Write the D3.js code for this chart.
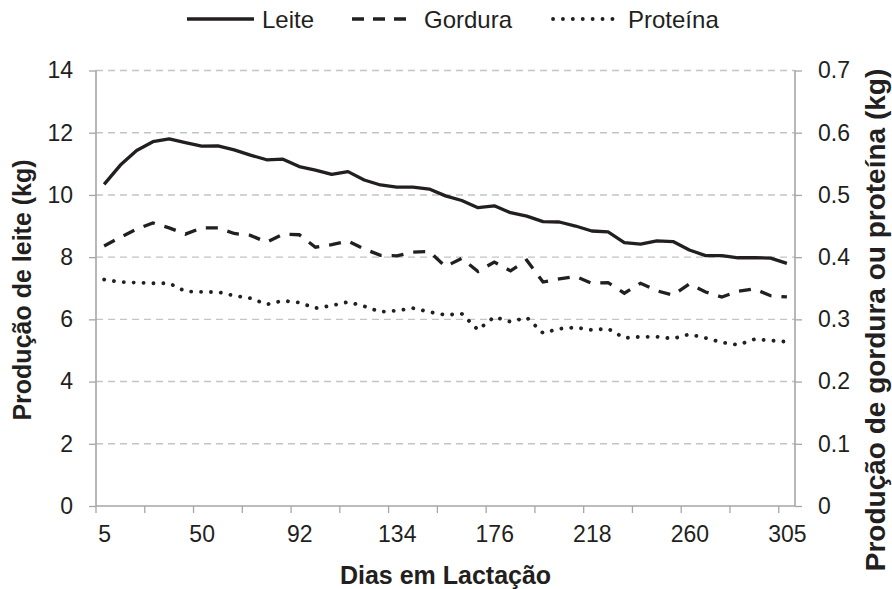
<!DOCTYPE html>
<html>
<head>
<meta charset="utf-8">
<script src="https://cdn.jsdelivr.net/npm/d3@7/dist/d3.min.js"></script>
<style>
  html, body { margin: 0; padding: 0; background: #fff; }
  svg text { font-family: "Liberation Sans", Arial, sans-serif; fill: #231f20; }
</style>
</head>
<body>
<svg id="chart" width="892" height="589"></svg>
<script>
// Days in lactation (categories)
const days = [5, 15, 22, 29, 36, 43, 50, 57, 64, 71, 78, 85, 92, 99, 106, 113, 120, 127, 134,
  141, 148, 155, 162, 169, 176, 183, 190, 197, 204, 211, 218, 225, 232, 239, 246, 253, 260,
  267, 274, 281, 288, 295, 305];
const tickLabels = [5, 50, 92, 134, 176, 218, 260, 305];

// Milk yield (kg) - left axis
const leite = [10.34, 10.96, 11.43, 11.71, 11.80, 11.68, 11.57, 11.58, 11.45, 11.28, 11.13,
  11.15, 10.91, 10.80, 10.66, 10.75, 10.48, 10.32, 10.25, 10.25, 10.19, 9.97, 9.82, 9.59,
  9.65, 9.43, 9.32, 9.14, 9.13, 9.00, 8.84, 8.81, 8.47, 8.42, 8.52, 8.50, 8.23, 8.05, 8.05,
  7.98, 7.98, 7.97, 7.80];
// Fat yield (kg) - right axis
const gordura = [0.418, 0.432, 0.445, 0.455, 0.447, 0.437, 0.447, 0.447, 0.438, 0.435, 0.424,
  0.437, 0.436, 0.416, 0.420, 0.426, 0.413, 0.403, 0.402, 0.408, 0.409, 0.385, 0.398, 0.377,
  0.392, 0.378, 0.395, 0.360, 0.365, 0.369, 0.358, 0.359, 0.342, 0.358, 0.346, 0.339, 0.357,
  0.344, 0.336, 0.345, 0.349, 0.338, 0.336];
// Protein yield (kg) - right axis
const proteina = [0.364, 0.360, 0.359, 0.358, 0.358, 0.345, 0.344, 0.344, 0.338, 0.334, 0.324,
  0.330, 0.327, 0.318, 0.322, 0.328, 0.321, 0.312, 0.314, 0.318, 0.312, 0.307, 0.309, 0.283,
  0.304, 0.296, 0.303, 0.278, 0.285, 0.287, 0.283, 0.285, 0.270, 0.272, 0.272, 0.269, 0.276,
  0.270, 0.263, 0.259, 0.268, 0.266, 0.264];

const leftTicks = [0, 2, 4, 6, 8, 10, 12, 14];
const rightTicks = [0, 0.1, 0.2, 0.3, 0.4, 0.5, 0.6, 0.7];

const svg = d3.select("#chart");
const L = 96, R = 795, T = 70.5, B = 506;
const ink = "#231f20", axisCol = "#a6a6a6", gridCol = "#c4c4c4";

const xBand = d3.scaleBand().domain(days).range([L, R]).padding(0);
const x = d3.scalePoint().domain(days).range([L, R]).padding(0.5);
const yL = d3.scaleLinear().domain([0, 14]).range([B, T]);
const yR = d3.scaleLinear().domain([0, 0.7]).range([B, T]);

// grid
svg.append("g").selectAll("line").data(leftTicks.filter(d => d > 0)).join("line")
  .attr("x1", L).attr("x2", R).attr("y1", d => yL(d)).attr("y2", d => yL(d))
  .attr("stroke", gridCol).attr("stroke-width", 1.4).attr("stroke-dasharray", "7,5");

// left axis
const gl = svg.append("g").attr("transform", `translate(${L},0)`)
  .call(d3.axisLeft(yL).tickValues(leftTicks).tickSize(7).tickPadding(16).tickFormat(d3.format("d")));
gl.select(".domain").remove();
gl.selectAll("line").attr("stroke", axisCol).attr("stroke-width", 1.3);
gl.selectAll("text").style("font-size", "23px").attr("fill", ink);
svg.append("line").attr("x1", L).attr("x2", L).attr("y1", T).attr("y2", B)
  .attr("stroke", axisCol).attr("stroke-width", 1.6);

// right axis
const gr = svg.append("g").attr("transform", `translate(${R},0)`)
  .call(d3.axisRight(yR).tickValues(rightTicks).tickSize(7).tickPadding(16)
    .tickFormat(d => d === 0 ? "0" : d.toFixed(1)));
gr.select(".domain").remove();
gr.selectAll("line").attr("stroke", axisCol).attr("stroke-width", 1.3);
gr.selectAll("text").style("font-size", "23px").attr("fill", ink);
svg.append("line").attr("x1", R).attr("x2", R).attr("y1", T).attr("y2", B)
  .attr("stroke", axisCol).attr("stroke-width", 1.6);

// bottom axis
svg.append("line").attr("x1", L).attr("x2", R).attr("y1", B).attr("y2", B)
  .attr("stroke", axisCol).attr("stroke-width", 1.6);
svg.append("g").selectAll("line").data(days.filter((d, i) => i % 3 === 0)).join("line")
  .attr("x1", d => xBand(d)).attr("x2", d => xBand(d)).attr("y1", B).attr("y2", B + 7)
  .attr("stroke", axisCol).attr("stroke-width", 1.3);
const gx = svg.append("g").attr("transform", `translate(0,${B})`)
  .call(d3.axisBottom(x).tickValues(tickLabels).tickSize(0).tickPadding(20));
gx.select(".domain").remove();
gx.selectAll("text").style("font-size", "23px").attr("fill", ink);

// lines
const lineL = d3.line().x((d, i) => x(days[i])).y(d => yL(d));
const lineR = d3.line().x((d, i) => x(days[i])).y(d => yR(d));
svg.append("path").datum(leite).attr("d", lineL).attr("fill", "none")
  .attr("stroke", ink).attr("stroke-width", 3.3).attr("stroke-linejoin", "round");
svg.append("path").datum(gordura).attr("d", lineR).attr("fill", "none")
  .attr("stroke", ink).attr("stroke-width", 3.3).attr("stroke-dasharray", "12,10");
svg.append("path").datum(proteina).attr("d", lineR).attr("fill", "none")
  .attr("stroke", ink).attr("stroke-width", 3.8).attr("stroke-linecap", "round")
  .attr("stroke-dasharray", "0.1,9.8");

// titles
svg.append("text").attr("x", (L + R) / 2).attr("y", 584).attr("text-anchor", "middle")
  .style("font-size", "25px").style("font-weight", "bold").text("Dias em Lactação");
svg.append("text").attr("transform", `translate(31,290) rotate(-90)`).attr("text-anchor", "middle")
  .style("font-size", "25px").style("font-weight", "bold").text("Produção de leite (kg)");
svg.append("text").attr("transform", `translate(885,320) rotate(-90)`).attr("text-anchor", "middle")
  .style("font-size", "28px").style("font-weight", "bold").text("Produção de gordura ou proteína (kg)");

// legend
const legend = [
  { name: "Leite", x1: 187, x2: 254, tx: 262, dash: null, w: 3.4, cap: "butt" },
  { name: "Gordura", x1: 352, x2: 412, tx: 424, dash: "12,9", w: 3.4, cap: "butt" },
  { name: "Proteína", x1: 553, x2: 618, tx: 628, dash: "0.1,9.8", w: 3.8, cap: "round" }
];
const lg = svg.append("g");
legend.forEach(e => {
  const l = lg.append("line").attr("x1", e.x1).attr("x2", e.x2).attr("y1", 19).attr("y2", 19)
    .attr("stroke", ink).attr("stroke-width", e.w).attr("stroke-linecap", e.cap);
  if (e.dash) l.attr("stroke-dasharray", e.dash);
  lg.append("text").attr("x", e.tx).attr("y", 27.5).style("font-size", "24px").text(e.name);
});
</script>
</body>
</html>
